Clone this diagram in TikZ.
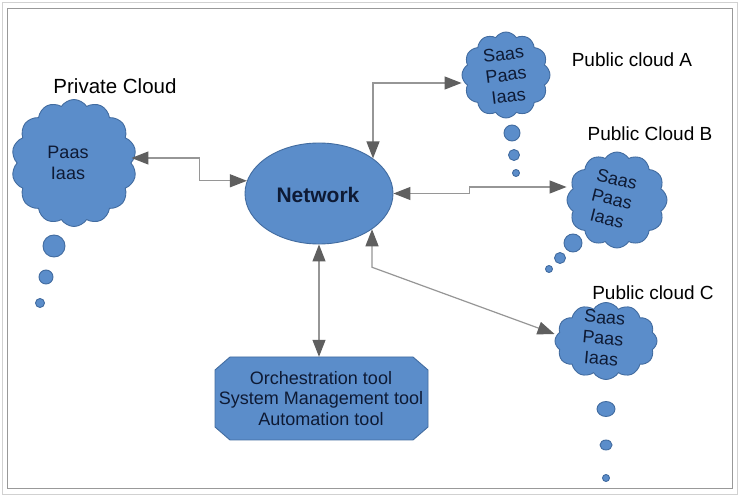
\documentclass[tikz,border=0pt]{standalone}
\usepackage{fontspec}
\setmainfont{Liberation Sans}
\usetikzlibrary{shapes.symbols,shapes.geometric,arrows.meta}
\definecolor{cfill}{RGB}{91,141,202}
\definecolor{cline}{RGB}{66,108,160}
\definecolor{ctext}{RGB}{14,26,52}
\definecolor{aline}{RGB}{150,150,150}
\definecolor{ahead}{RGB}{95,95,95}
\tikzset{
  blueshape/.style={fill=cfill,draw=cline,line width=0.9pt},
  cloudbox/.style={blueshape,cloud,cloud puffs=12,cloud puff arc=115,inner sep=0pt,minimum width=#1},
  bubble/.style={blueshape,circle,inner sep=0pt,minimum size=#1},
  cloudtext/.style={text=ctext,font=\fontsize{18}{21.5}\selectfont,align=center,inner sep=0pt},
  label/.style={text=black,font=\fontsize{19}{23}\selectfont,inner sep=0pt},
  conn/.style={draw=aline,line width=1.2pt,{Triangle[length=17pt,width=13pt,fill=ahead,color=ahead]}-{Triangle[length=17pt,width=13pt,fill=ahead,color=ahead]}},
}
\begin{document}
\begin{tikzpicture}[x=1pt,y=-1pt]
\useasboundingbox (0,0) rectangle (740,497);
\fill[white] (0,0) rectangle (740,497);
\draw[draw=black!18,line width=1pt] (2.5,2.5) rectangle (737.5,494.5);
\draw[draw=black!40,line width=1.6pt] (7.5,8.5) rectangle (732.5,488.5);

% network
\node[blueshape,ellipse,minimum width=148pt,minimum height=101pt,inner sep=0pt] (net) at (319,193.5) {};
\node[text=ctext,font=\bfseries\fontsize{21}{25}\selectfont,inner sep=0pt] (nettext) at (318,195) {Network};

% private cloud
\node[label,font=\fontsize{20.5}{24}\selectfont] (pclabel) at (115,86) {Private Cloud};
\node[cloudbox=125pt,minimum height=127pt,cloud puffs=14] (pc) at (74,163) {};
\node[cloudtext] (pctext) at (68,163) {Paas\\Iaas};
\node[bubble=22pt] (pcb1) at (54,246) {};
\node[bubble=14pt] (pcb2) at (46,277) {};
\node[bubble=9pt] (pcb3) at (40,303) {};

% public cloud A
\node[label] (palabel) at (632,60) {Public cloud A};
\node[cloudbox=88pt,minimum height=86pt] (pa) at (506,75) {};
\node[cloudtext,rotate=7,font=\fontsize{18}{21}\selectfont] (patext) at (506,75) {Saas\\Paas\\Iaas};
\node[bubble=16pt] (pab1) at (512,133) {};
\node[bubble=11pt] (pab2) at (514,155) {};
\node[bubble=7pt] (pab3) at (516,173) {};

% public cloud B
\node[label] (pblabel) at (650,134) {Public Cloud B};
\node[cloudbox=100pt,minimum height=96pt] (pb) at (617,200) {};
\node[cloudtext,rotate=-14,font=\fontsize{18}{20.5}\selectfont] (pbtext) at (612,199) {Saas\\Paas\\Iaas};
\node[bubble=18pt] (pbb1) at (573,243) {};
\node[bubble=11pt] (pbb2) at (560,258) {};
\node[bubble=7pt] (pbb3) at (549,269) {};

% public cloud C
\node[label] (pclabelc) at (653,293) {Public cloud C};
\node[cloudbox=102pt,minimum height=77pt] (pcc) at (606,341) {};
\node[cloudtext,rotate=-5,font=\fontsize{18}{20.5}\selectfont] (pcctext) at (603,338) {Saas\\Paas\\Iaas};
\node[blueshape,ellipse,minimum width=18pt,minimum height=15pt,inner sep=0pt] (pccb1) at (606,409) {};
\node[blueshape,ellipse,minimum width=12pt,minimum height=10pt,inner sep=0pt] (pccb2) at (606,445) {};
\node[bubble=7pt] (pccb3) at (606,478) {};

% tools box (octagon)
\draw[blueshape] (230,357) -- (413,357) -- (428,370) -- (428,427) -- (413,440) -- (230,440) -- (215,427) -- (215,370) -- cycle;
\node[minimum width=213pt,minimum height=83pt,inner sep=0pt] (box) at (321.5,398.5) {};
\node[text=ctext,font=\fontsize{18}{20.5}\selectfont,align=center,inner sep=0pt] (boxtext) at (321,398.5) {Orchestration tool\\System Management tool\\Automation tool};

% connectors
\draw[conn] ([yshift=5pt]pc.east) -- ++(68,0) |- (net.170);
\draw[conn] (net.33.4) |- ([yshift=-8pt]pa.west);
\draw[conn] (net.east) -- ++(76,0) |- ([yshift=13pt]pb.west);
\draw[conn] (net.-34.6) -- ++(0,38) -- ([yshift=7pt]pcc.west);
\draw[conn] (net.south) -- (net.south |- box.north);
\end{tikzpicture}
\end{document}
